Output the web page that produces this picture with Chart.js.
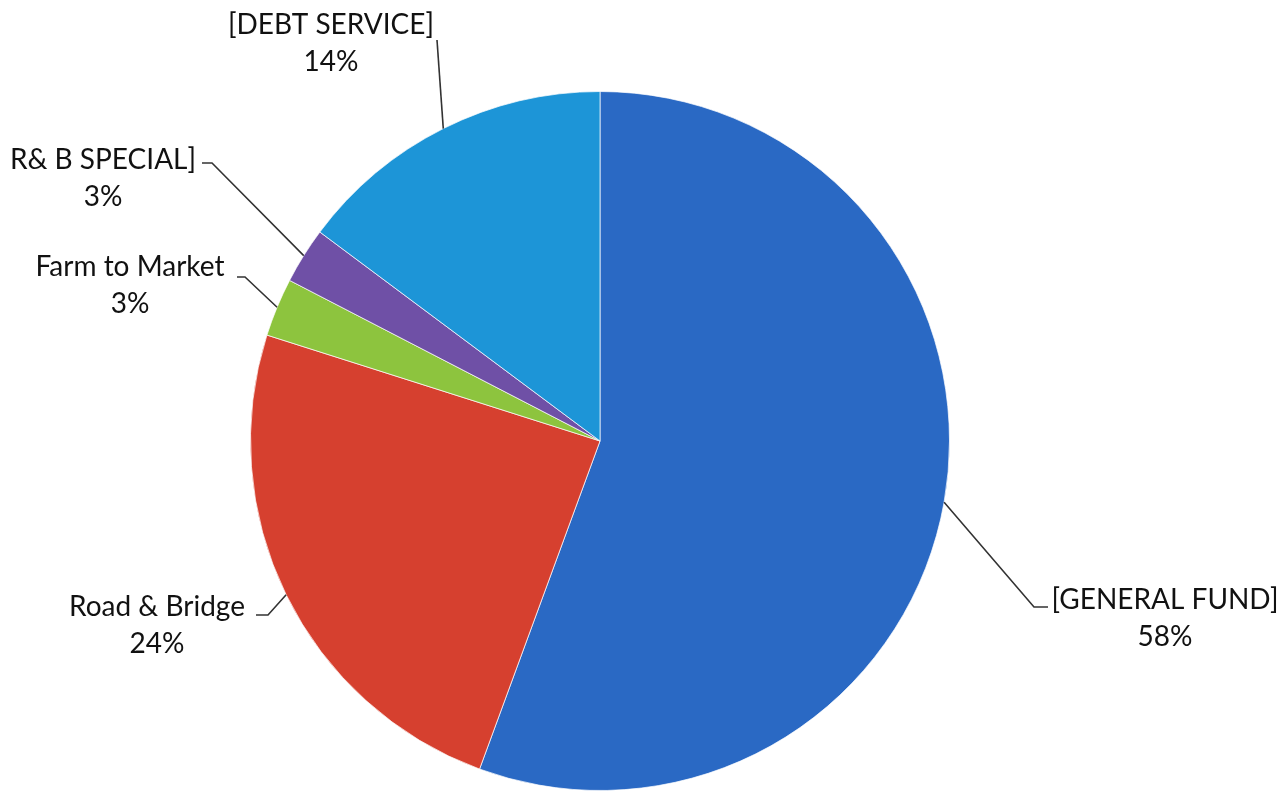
<!DOCTYPE html>
<html>
<head>
<meta charset="utf-8">
<script src="https://cdn.jsdelivr.net/npm/chart.js@4/dist/chart.umd.min.js"></script>
<style>
  html, body { margin: 0; padding: 0; background: #ffffff; }
  canvas { display: block; }
</style>
</head>
<body>
<canvas id="chart" width="1288" height="791"></canvas>
<script>
// fund names, clockwise from the top
var funds = ['[GENERAL FUND]', 'Road & Bridge', 'Farm to Market', 'R& B SPECIAL]', '[DEBT SERVICE]'];
// share of the pie as drawn
var shares = [55.6, 24.3, 2.7, 2.6, 14.8];
// percentages as printed on the labels
var printed = ['58%', '24%', '3%', '3%', '14%'];
var colors = ['#2a69c4', '#d6402f', '#8dc43e', '#6f50a6', '#1d95d7'];

// where each callout sits: end of leader line, elbow, text centre
var callouts = [
    {ex: 1034, ey: 607, hx: 1048, tx: 1165, ty: 600},
    {ex: 268, ey: 615, hx: 256, tx: 157, ty: 607},
    {ex: 245, ey: 277, hx: 237, tx: 130, ty: 267},
    {ex: 212, ey: 163, hx: 202, tx: 103, ty: 160},
    {ex: 437, ey: 40, hx: null, tx: 331, ty: 25}
];

var leaderLabels = {
    id: 'leaderLabels',
    afterDatasetsDraw: function (chart) {
        var ctx = chart.ctx;
        var meta = chart.getDatasetMeta(0);
        ctx.save();
        meta.data.forEach(function (arc, i) {
            var p = arc.getProps(['x', 'y', 'startAngle', 'endAngle', 'outerRadius'], true);
            var mid = (p.startAngle + p.endAngle) / 2;
            var ax = p.x + Math.cos(mid) * p.outerRadius;
            var ay = p.y + Math.sin(mid) * p.outerRadius;
            var c = callouts[i];
            // leader line
            ctx.strokeStyle = '#333333';
            ctx.lineWidth = 1.6;
            ctx.beginPath();
            ctx.moveTo(ax, ay);
            ctx.lineTo(c.ex, c.ey);
            if (c.hx !== null) ctx.lineTo(c.hx, c.ey);
            ctx.stroke();
            // two line label
            ctx.fillStyle = '#111111';
            ctx.font = '28px Lato';
            ctx.textAlign = 'center';
            ctx.textBaseline = 'middle';
            ctx.fillText(funds[i], c.tx, c.ty);
            ctx.fillText(printed[i], c.tx, c.ty + 37);
        });
        ctx.restore();
    }
};

new Chart(document.getElementById('chart').getContext('2d'), {
    type: 'pie',
    data: {
        labels: funds,
        datasets: [{
            data: shares,
            backgroundColor: colors,
            borderColor: 'rgba(255,255,255,0.7)',
            borderWidth: 1
        }]
    },
    options: {
        responsive: false,
        animation: false,
        layout: {
            padding: {top: 91, bottom: 0, left: 0, right: 88}
        },
        plugins: {
            legend: {display: false},
            tooltip: {enabled: false}
        }
    },
    plugins: [leaderLabels]
});
</script>
</body>
</html>
